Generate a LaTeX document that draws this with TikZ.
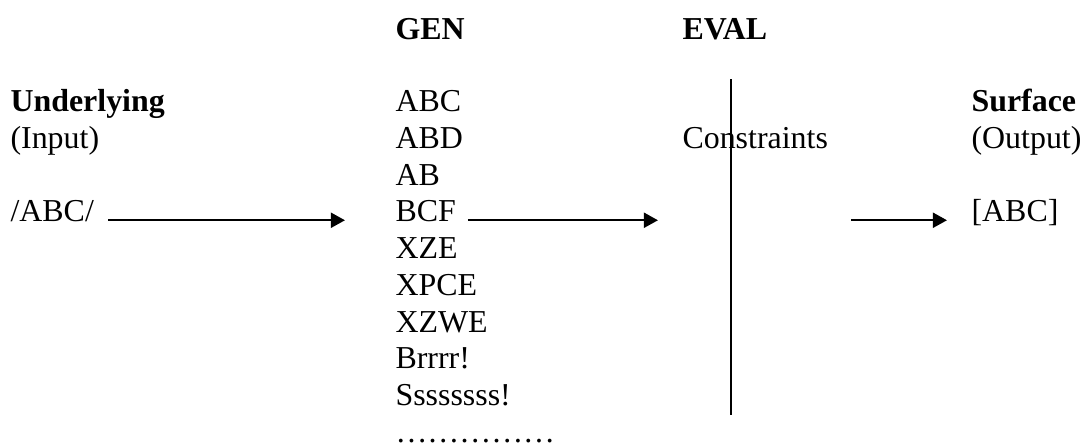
\documentclass[tikz,border=0pt]{standalone}
\usepackage{fontspec}
\setmainfont{Liberation Serif}
\usepackage{tikz}
\usetikzlibrary{arrows.meta,calc}

\begin{document}
\begin{tikzpicture}[x=0.376pt,y=-0.376pt,
  txt/.style={anchor=base west,inner sep=0pt,font=\fontsize{12}{14}\selectfont},
  hd/.style={txt,font=\fontsize{12}{14}\selectfont\bfseries},
  arr/.style={line width=0.9pt,-{Triangle[length=5.3pt,width=5.6pt]}}]
\useasboundingbox (0,0) rectangle (1082,445);
% column heads
\node[hd] (gen) at (395,39.5) {GEN};
\node[hd] (eval) at (682,39.5) {EVAL};
% input side
\node[hd] (und) at (10,111.5) {Underlying};
\node[txt] (inp) at (10,148.25) {(Input)};
\node[txt] (in) at (10,221.75) {/ABC/};
% candidates
\foreach \w [count=\i] in {ABC,ABD,AB,BCF,XZE,XPCE,XZWE,Brrrr!,Ssssssss!}
  \node[txt] (c\i) at (395,{111.5+36.75*(\i-1)}) {\w};
\node[txt] (dots) at (395,442) {……………};
% constraints
\coordinate (etop) at (730.7,79);
\coordinate (ebot) at (730.7,415);
\draw[line width=0.75pt] (etop) -- (ebot);
\node[txt] (con) at (682,148.25) {Constraints};
% output side
\node[hd] (surf) at (971,111.5) {Surface};
\node[txt] (outp) at (971,148.25) {(Output)};
\node[txt] (out) at (971,221.75) {[ABC]};
% arrows
\coordinate (cin) at (658,220.25);
\coordinate (cout) at (851,220.25);
\draw[arr] ([shift={(14,-1.5)}]in.base east) -- ([shift={(-50,-1.5)}]c4.base west);
\draw[arr] ([shift={(11.5,-1.5)}]c4.base east) -- (cin);
\draw[arr] (cout) -- ([shift={(-24,-1.5)}]out.base west);
\end{tikzpicture}
\end{document}
